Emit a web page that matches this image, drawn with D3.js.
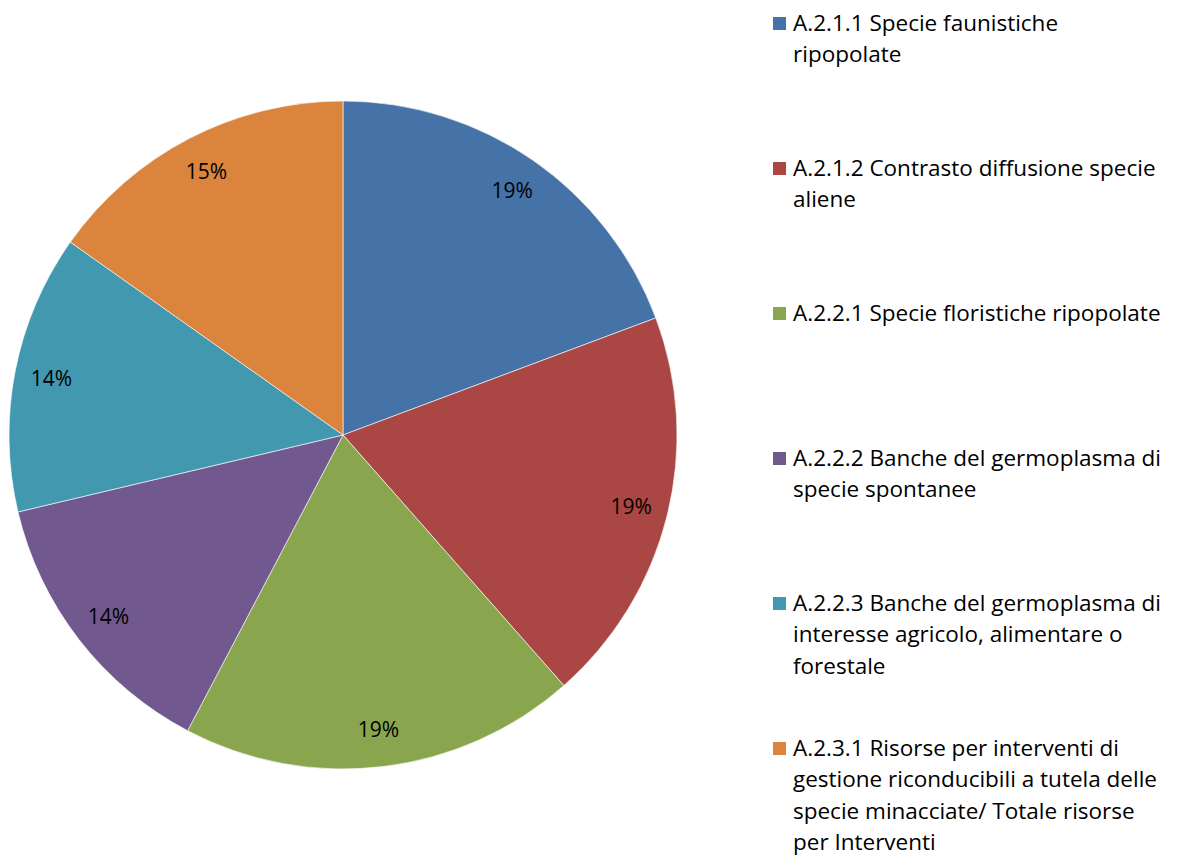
<!DOCTYPE html>
<html>
<head>
<meta charset="utf-8">
<script src="https://cdn.jsdelivr.net/npm/d3@7"></script>
<style>
  body { margin: 0; background: #fff; }
  text { font-family: "Open Sans", Lato, sans-serif; fill: #000; }
</style>
</head>
<body>
<script>
// legend labels, one entry per line as they appear in the legend
var categories = [
  ["A.2.1.1 Specie faunistiche", "ripopolate"],
  ["A.2.1.2 Contrasto diffusione specie", "aliene"],
  ["A.2.2.1 Specie floristiche ripopolate"],
  ["A.2.2.2 Banche del germoplasma di", "specie spontanee"],
  ["A.2.2.3 Banche del germoplasma di", "interesse agricolo, alimentare o", "forestale"],
  ["A.2.3.1 Risorse per interventi di", "gestione riconducibili a tutela delle", "specie minacciate/ Totale risorse", "per Interventi"]
];
var values = [19.3, 19.2, 19.2, 13.6, 13.5, 15.2];
var colors = ["#4572A7", "#AA4643", "#89A54E", "#71588F", "#4198AF", "#DB843D"];

var width = 1180, height = 856;
var cx = 343, cy = 435, radius = 334;

var svg = d3.select("body").append("svg").attr("width", width).attr("height", height);

var total = d3.sum(values);
var pie = d3.pie().sort(null).value(function(d) { return d; });
var arc = d3.arc().innerRadius(0).outerRadius(radius);
var labelArc = d3.arc().innerRadius(297).outerRadius(297);

var g = svg.append("g").attr("transform", "translate(" + cx + "," + cy + ")");
var arcs = pie(values);

g.selectAll("path").data(arcs).enter().append("path")
  .attr("d", arc)
  .attr("fill", function(d, i) { return colors[i]; })
  .attr("stroke", "#fff")
  .attr("stroke-width", 0.6);

g.selectAll("text.lbl").data(arcs).enter().append("text")
  .attr("class", "lbl")
  .attr("transform", function(d) { return "translate(" + labelArc.centroid(d) + ")"; })
  .attr("text-anchor", "middle")
  .attr("dy", "0.35em")
  .style("font-size", "21px")
  .text(function(d) { return Math.round(d.value / total * 100) + "%"; });

// legend
var legX = 773, legY0 = 23, legStep = 145, lineH = 31.5;
var leg = svg.selectAll("g.leg").data(categories).enter().append("g").attr("class", "leg")
  .attr("transform", function(d, i) { return "translate(" + legX + "," + (legY0 + i * legStep) + ")"; });
leg.append("rect").attr("x", 0).attr("y", -6).attr("width", 13).attr("height", 13)
  .attr("fill", function(d, i) { return colors[i]; });
leg.append("text").style("font-size", "22.5px")
  .selectAll("tspan").data(function(d) { return d; }).enter().append("tspan")
  .attr("x", 20).attr("y", function(d, j) { return j * lineH; }).attr("dy", "0.35em")
  .text(function(d) { return d; });
</script>
</body>
</html>
